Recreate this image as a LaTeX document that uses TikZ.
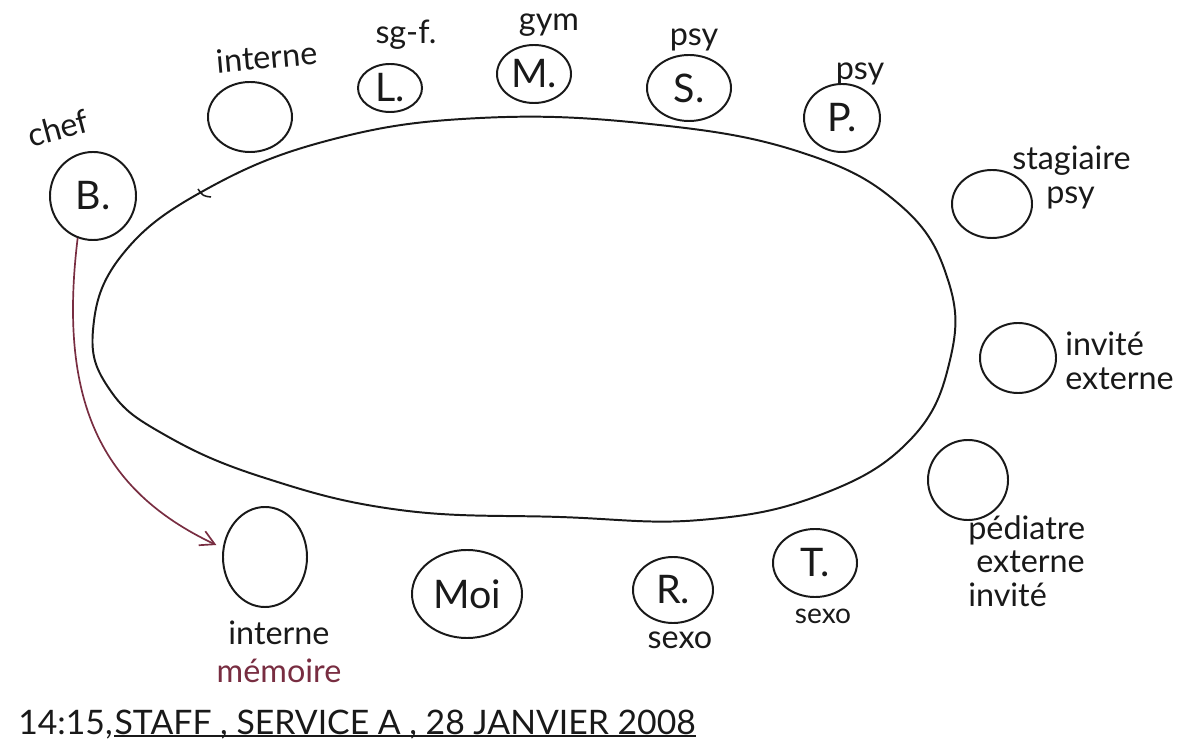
\documentclass[tikz,border=0pt]{standalone}
\usepackage{fontspec}
\setmainfont{Lato}
\usetikzlibrary{arrows.meta,shapes.geometric,positioning}
\definecolor{ink}{RGB}{25,25,25}
\definecolor{plum}{RGB}{120,45,65}

\begin{document}
\begin{tikzpicture}[x=0.025cm,y=-0.025cm,
  seat/.style={draw=ink,ellipse,line width=1.4pt,inner sep=0pt},
  role/.style={font=\fontsize{23}{24}\selectfont,text=ink,inner sep=0pt},
  initial/.style={font=\fontsize{28}{30}\selectfont,text=ink}]
\useasboundingbox (0,0) rectangle (1188,753);

% the table
\draw[ink, line width=1.4pt] plot[smooth cycle, tension=0.7] coordinates {
  (93,330) (122,255) (205,190) (330,140) (480,118) (650,124) (800,152)
  (900,205) (948,280) (950,360) (910,440) (820,495) (700,520) (560,517)
  (400,510) (265,478) (165,435) (110,390)};
\draw[ink, line width=1.1pt] (198,189) .. controls (203,196) .. (211,197);

% seats, top row
\node[seat, initial, minimum width=2.15cm, minimum height=2.2cm] (b) at (93,196) {B.};
\node[seat, minimum width=2.1cm, minimum height=1.75cm] (intt) at (250,117) {};
\node[seat, initial, minimum width=1.6cm, minimum height=1.2cm] (l) at (390,88) {L.};
\node[seat, initial, minimum width=1.85cm, minimum height=1.45cm] (m) at (534,74) {M.};
\node[seat, initial, minimum width=2.1cm, minimum height=1.65cm] (s) at (689,88) {S.};
\node[seat, initial, minimum width=1.9cm, minimum height=1.7cm] (p) at (842,118) {P.};

% seats, right side
\node[seat, minimum width=2cm, minimum height=1.7cm] (stag) at (992,204) {};
\node[seat, minimum width=1.9cm, minimum height=1.75cm] (invext) at (1018,358) {};
\node[seat, minimum width=2cm, minimum height=2cm] (ped) at (968,480) {};

% seats, bottom row
\node[seat, minimum width=2.1cm, minimum height=2.5cm] (intb) at (265,557) {};
\node[seat, initial, minimum width=2.75cm, minimum height=2.2cm] (moi) at (467,594) {Moi};
\node[seat, initial, minimum width=2cm, minimum height=1.65cm] (r) at (673,590) {R.};
\node[seat, initial, minimum width=2.1cm, minimum height=1.7cm] (t) at (815,563) {T.};

% roles
\node[role, rotate=15] (chef) at (58,128) {chef};
\node[role, rotate=5] (lintt) at (267,57) {interne};
\node[role] (ll) at (406,35) {sg-f.};
\node[role] (lm) at (549,25) {gym};
\node[role] (ls) at (694,40) {psy};
\node[role] (lp) at (860,74) {psy};
\node[role, anchor=north west, align=left] (lstag) at (1012,146)
  {stagiaire\\\hspace*{0.85cm}psy};
\node[role, anchor=north west, align=left] (linv) at (1065,332)
  {invité\\externe};
\node[role, anchor=north west, align=left] (lped) at (968,515)
  {pédiatre\\\hspace*{0.2cm}externe\\invité};
\node[role, align=center] (lintb) at (279,652)
  {interne\\[0.12cm]\textcolor{plum}{mémoire}};
\node[role] (lr) at (680,640) {sexo};
\node[role, font=\fontsize{20}{22}\selectfont] (lt) at (823,616) {sexo};

% from the chef to the intern
\draw[plum, line width=1.2pt, -{Straight Barb[length=10pt,width=11pt]}, shorten >=5pt]
  (b.250) .. controls (58,400) and (100,490) .. (intb.168);

% title
\node[role, anchor=west, font=\fontsize{24}{26}\selectfont] (time) at (18,725) {14:15,};
\node[role, font=\fontsize{24}{26}\selectfont, right=1pt of time] (title)
  {STAFF , SERVICE A , 28 JANVIER 2008};
\draw[ink, line width=1.2pt] (title.south west) ++(0,-4) coordinate (ul)
  -- (ul -| title.south east);
\end{tikzpicture}
\end{document}
